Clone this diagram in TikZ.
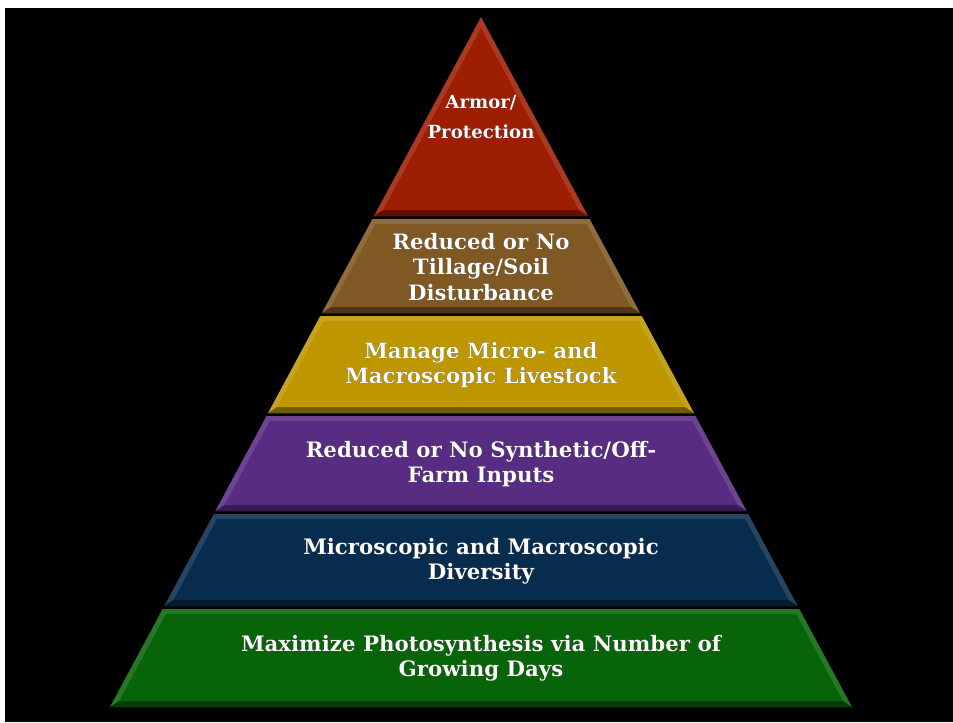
\documentclass[tikz,border=0pt]{standalone}
\usepackage{fontspec}
\setmainfont{DejaVu Serif}
\usepackage[outline]{contour}
\contourlength{1.1pt}

\definecolor{lyrred}{RGB}{158,30,4}
\definecolor{lyrbrown}{RGB}{128,88,36}
\definecolor{lyrgold}{RGB}{190,150,0}
\definecolor{lyrpurple}{RGB}{88,44,130}
\definecolor{lyrnavy}{RGB}{8,44,78}
\definecolor{lyrgreen}{RGB}{8,100,8}

% one band of the pyramid: top y, bottom y, colour (y in pixels, apex at 481,17)
\newcommand\pyrlayer[3]{%
  \pgfmathsetmacro\lyrT{(#1-17)*0.5377}
  \pgfmathsetmacro\lyrB{(#2-17)*0.5377}
  \pgfmathsetmacro\lyrYi{max(#1+5,28)}
  \pgfmathsetmacro\lyrTi{(\lyrYi-28)*0.5377}
  \pgfmathsetmacro\lyrBi{(#2-6-28)*0.5377}
  \fill[#3!88!white] (481-\lyrT,#1) -- (481+\lyrT,#1) -- (481+\lyrB,#2) -- (481-\lyrB,#2) -- cycle;
  \fill[#3!60!black] (481-\lyrB,#2) -- (481+\lyrB,#2) -- (481+\lyrBi,#2-6) -- (481-\lyrBi,#2-6) -- cycle;
  \fill[#3] (481-\lyrTi,\lyrYi) -- (481+\lyrTi,\lyrYi) -- (481+\lyrBi,#2-6) -- (481-\lyrBi,#2-6) -- cycle;
}

\tikzset{
  lbl/.style={text=white, align=center, inner sep=0pt,
    font=\bfseries\fontsize{18.2}{21.7}\selectfont},
  toplbl/.style={lbl, font=\bfseries\fontsize{15.5}{25.5}\selectfont}
}

\begin{document}
\begin{tikzpicture}[x=0.03cm,y=-0.03cm]
  \useasboundingbox (0,0) rectangle (953,722);
  \fill[white] (0,0) rectangle (953,722);
  \fill[black] (5,8) rectangle (953,722);

  % bands, top to bottom
  \pyrlayer{17}{216}{lyrred}
  \pyrlayer{219}{313}{lyrbrown}
  \pyrlayer{316}{413}{lyrgold}
  \pyrlayer{416}{511}{lyrpurple}
  \pyrlayer{514}{606}{lyrnavy}
  \pyrlayer{609}{707}{lyrgreen}

  % labels
  \node[toplbl] (armor) at (481,117) {\contour{black}{Armor/}\\\contour{black}{Protection}};
  \node[lbl] (tillage) at (481,267) {\contour{black}{Reduced or No}\\\contour{black}{Tillage/Soil}\\\contour{black}{Disturbance}};
  \node[lbl] (livestock) at (481,365) {\contour{black}{Manage Micro- and}\\\contour{black}{Macroscopic Livestock}};
  \node[lbl] (inputs) at (481,464) {\contour{black}{Reduced or No Synthetic/Off-}\\\contour{black}{Farm Inputs}};
  \node[lbl] (diversity) at (481,561) {\contour{black}{Microscopic and Macroscopic}\\\contour{black}{Diversity}};
  \node[lbl] (photo) at (481,658) {\contour{black}{Maximize Photosynthesis via Number of}\\\contour{black}{Growing Days}};
\end{tikzpicture}
\end{document}
